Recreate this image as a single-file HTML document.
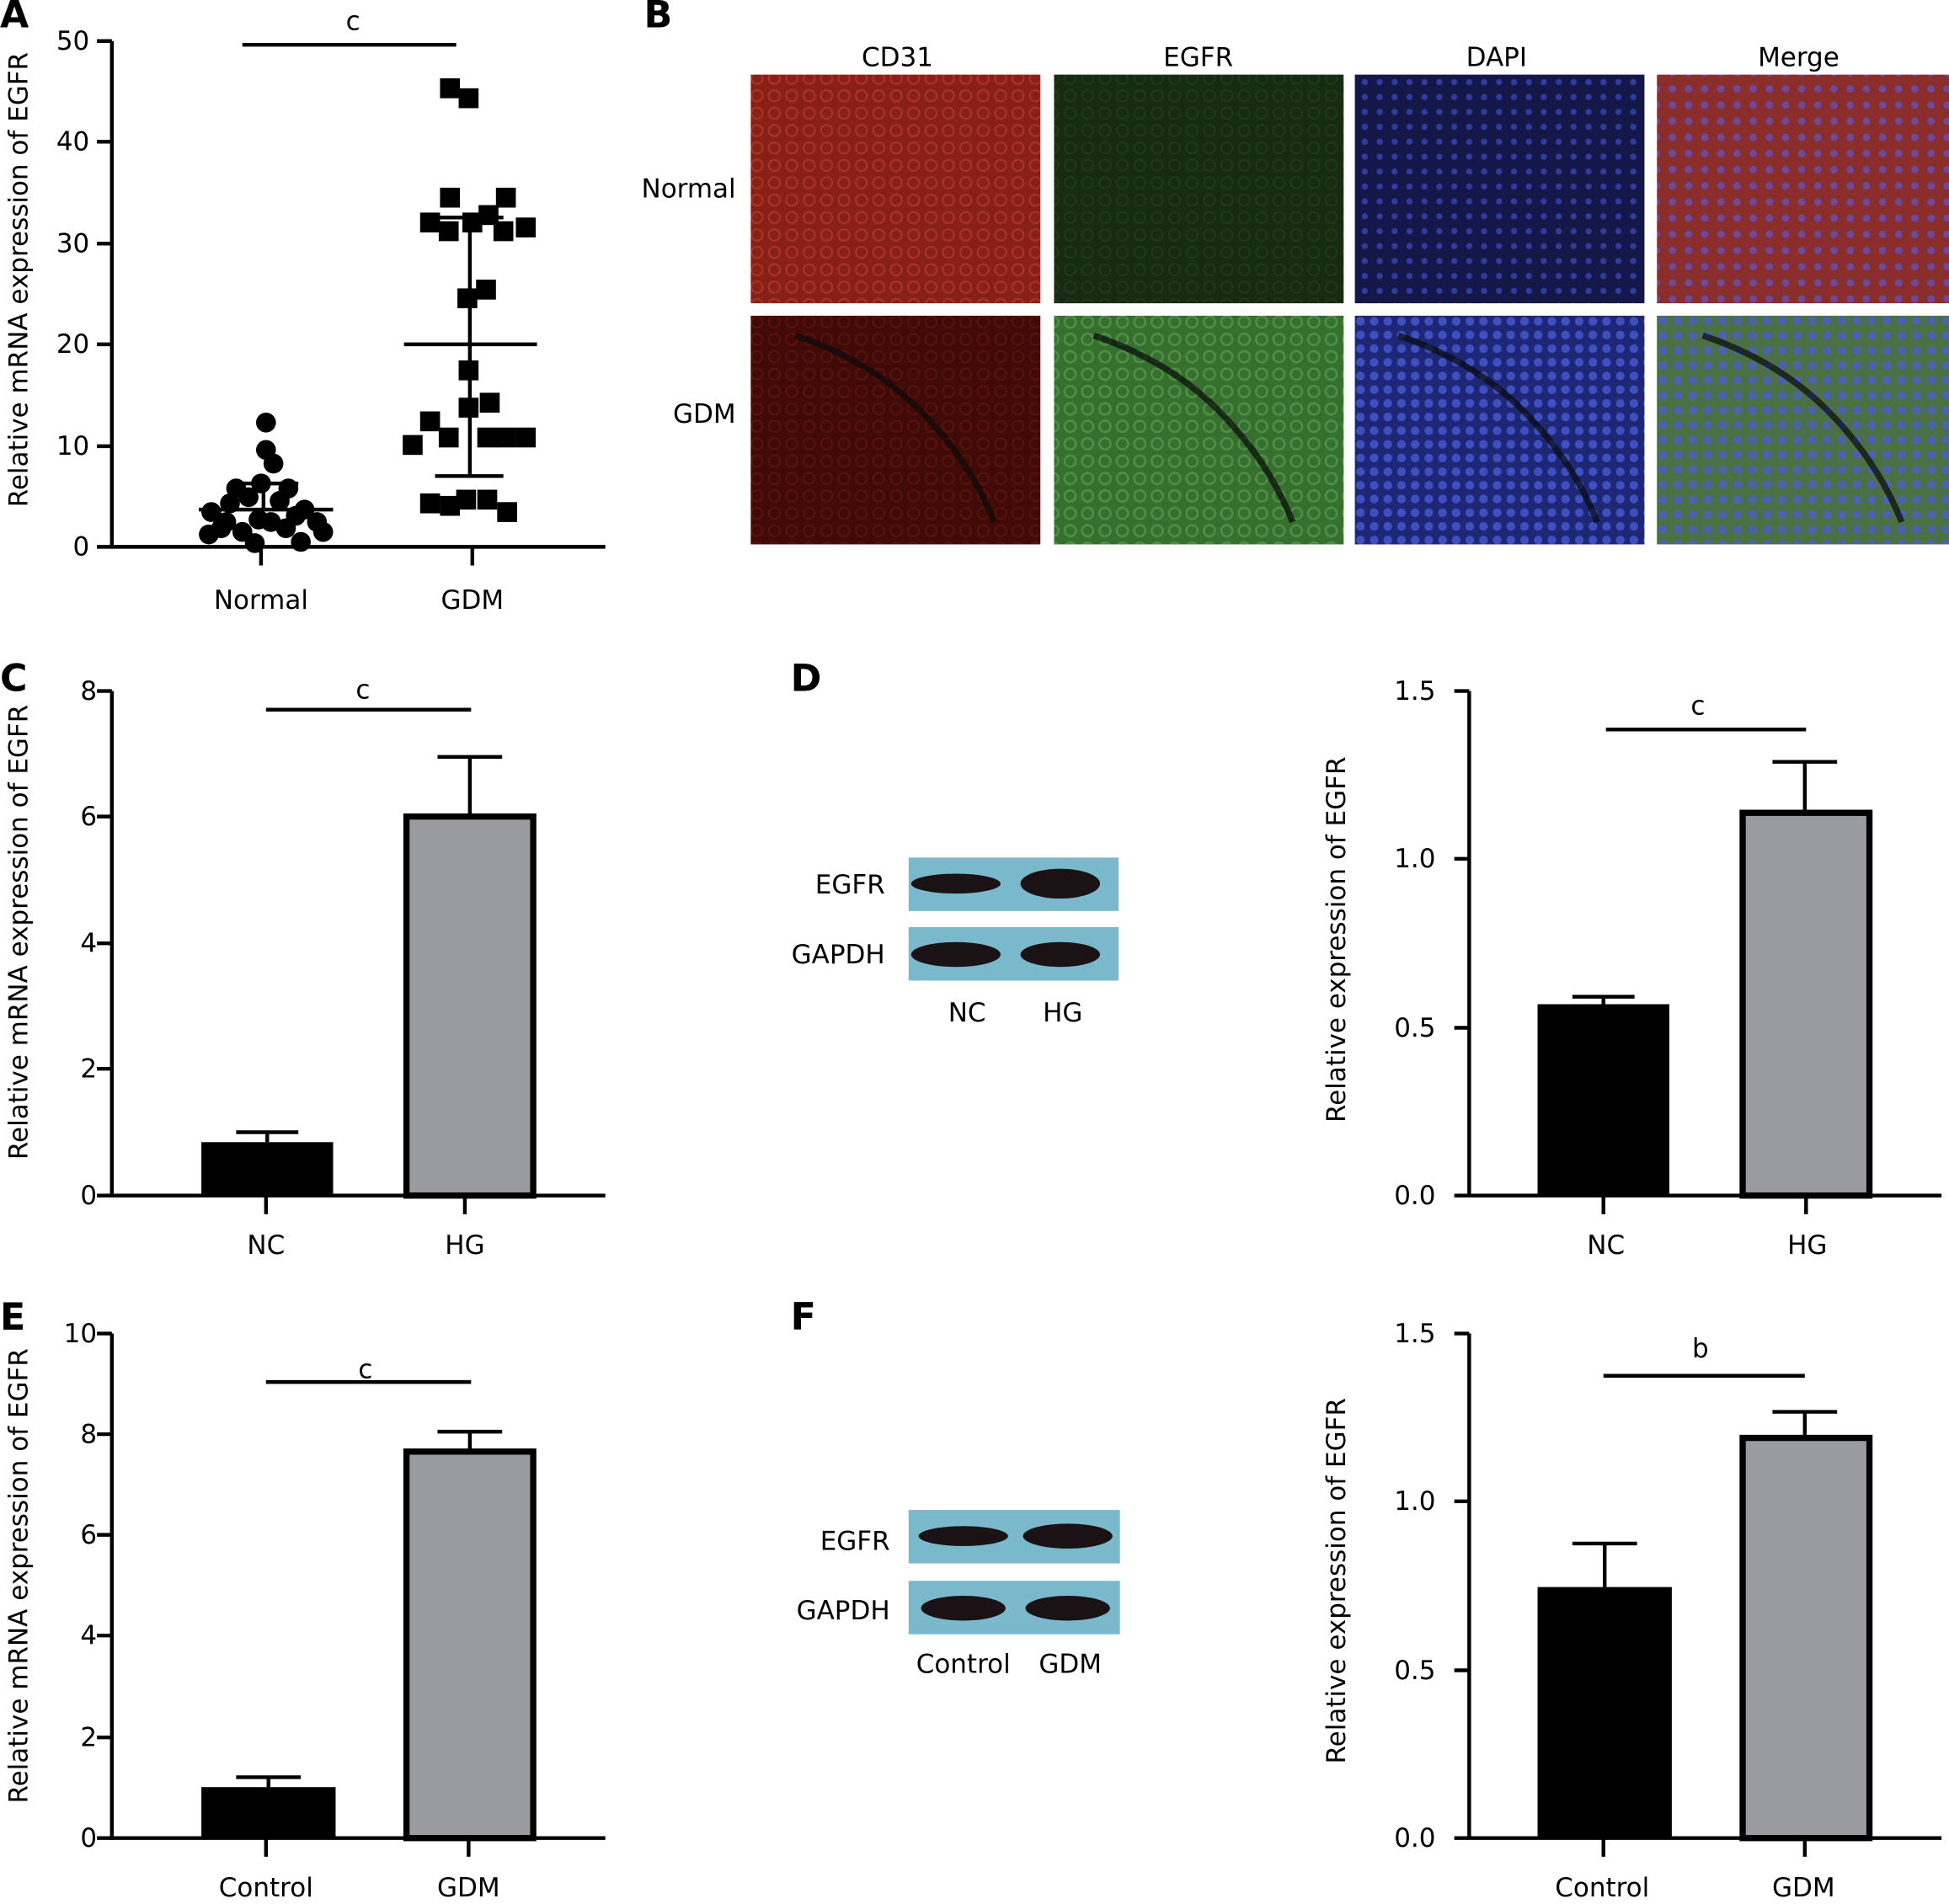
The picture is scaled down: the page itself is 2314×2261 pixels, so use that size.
<!DOCTYPE html>
<html><head><meta charset="utf-8"><style>html,body{margin:0;padding:0;background:#fff}svg{display:block}</style></head><body>
<svg width="2314" height="2261" viewBox="0 0 1568 1532" xmlns="http://www.w3.org/2000/svg" font-family="DejaVu Sans, Liberation Sans, sans-serif" font-size="21">
<defs>
<pattern id="pr" width="14" height="14" patternUnits="userSpaceOnUse"><rect width="14" height="14" fill="#882018"/><circle cx="7" cy="7" r="4.5" fill="none" stroke="#a83228" stroke-width="1.5"/></pattern>
<pattern id="pr2" width="14" height="14" patternUnits="userSpaceOnUse"><rect width="14" height="14" fill="#420a07"/><circle cx="7" cy="7" r="4.5" fill="none" stroke="#56120d" stroke-width="1.5"/></pattern>
<pattern id="pg" width="14" height="14" patternUnits="userSpaceOnUse"><rect width="14" height="14" fill="#172a12"/><circle cx="7" cy="7" r="4.5" fill="none" stroke="#1f3818" stroke-width="1.5"/></pattern>
<pattern id="pg2" width="14" height="14" patternUnits="userSpaceOnUse"><rect width="14" height="14" fill="#35702f"/><circle cx="7" cy="7" r="4.5" fill="none" stroke="#4e8e46" stroke-width="1.8"/></pattern>
<pattern id="pb" width="12" height="12" patternUnits="userSpaceOnUse"><rect width="12" height="12" fill="#141848"/><circle cx="6" cy="6" r="2.5" fill="#2e3ca0"/></pattern>
<pattern id="pb2" width="11" height="11" patternUnits="userSpaceOnUse"><rect width="11" height="11" fill="#1e2676"/><circle cx="5.5" cy="5.5" r="3.5" fill="#3e50c0"/></pattern>
<pattern id="pm" width="13" height="13" patternUnits="userSpaceOnUse"><rect width="13" height="13" fill="#8a2e2c"/><circle cx="6.5" cy="6.5" r="3" fill="#6a4aa0"/></pattern>
<pattern id="pm2" width="12" height="12" patternUnits="userSpaceOnUse"><rect width="12" height="12" fill="#4a7044"/><circle cx="6" cy="6" r="3.5" fill="#4a62b0"/></pattern>
</defs>
<g font-weight="bold" font-size="30">
<text x="0" y="22">A</text><text x="518" y="22">B</text><text x="0" y="556">C</text><text x="636" y="556">D</text><text x="0" y="1070">E</text><text x="636" y="1070">F</text></g>

<!-- Panel A -->
<g stroke="#000" stroke-width="3" fill="none">
<path d="M90 33V440H487"/>
<path d="M78 33H90M78 114H90M78 196H90M78 277H90M78 359H90M78 440H90"/>
<path d="M210 440V455M380 440V455"/>
<path d="M195 36H367"/>
<path d="M160 410H268M212 410V389M185 389H240"/>
<path d="M325 277H432M378 175V383M350 175H405M350 383H405"/>
</g>
<g text-anchor="end"><text x="72" y="40">50</text><text x="72" y="121">40</text><text x="72" y="203">30</text><text x="72" y="284">20</text><text x="72" y="366">10</text><text x="72" y="447">0</text></g>
<text x="284" y="24" text-anchor="middle">c</text>
<text x="210" y="490" text-anchor="middle">Normal</text><text x="380" y="490" text-anchor="middle">GDM</text>
<text transform="translate(22 225) rotate(-90)" text-anchor="middle">Relative mRNA expression of EGFR</text>
<g fill="#000">
<circle cx="214" cy="340" r="8"/><circle cx="214" cy="362" r="8"/><circle cx="220" cy="373" r="8"/><circle cx="190" cy="393" r="8"/><circle cx="210" cy="389" r="8"/><circle cx="232" cy="393" r="8"/><circle cx="170" cy="412" r="8"/><circle cx="185" cy="405" r="8"/><circle cx="200" cy="400" r="8"/><circle cx="225" cy="403" r="8"/><circle cx="245" cy="410" r="8"/><circle cx="255" cy="420" r="8"/><circle cx="168" cy="430" r="8"/><circle cx="182" cy="420" r="8"/><circle cx="195" cy="428" r="8"/><circle cx="205" cy="437" r="8"/><circle cx="218" cy="420" r="8"/><circle cx="230" cy="425" r="8"/><circle cx="242" cy="436" r="8"/><circle cx="260" cy="428" r="8"/><circle cx="178" cy="425" r="8"/><circle cx="238" cy="415" r="8"/><circle cx="208" cy="418" r="8"/>
</g>
<g fill="#000">
<rect x="354" y="63" width="16" height="16"/><rect x="369" y="71" width="16" height="16"/>
<rect x="354" y="151" width="16" height="16"/><rect x="399" y="151" width="16" height="16"/><rect x="385" y="165" width="16" height="16"/><rect x="338" y="171" width="16" height="16"/><rect x="372" y="171" width="16" height="16"/><rect x="415" y="175" width="16" height="16"/><rect x="353" y="178" width="16" height="16"/><rect x="397" y="178" width="16" height="16"/>
<rect x="383" y="225" width="16" height="16"/><rect x="368" y="232" width="16" height="16"/><rect x="369" y="290" width="16" height="16"/>
<rect x="386" y="316" width="16" height="16"/><rect x="369" y="320" width="16" height="16"/><rect x="338" y="331" width="16" height="16"/><rect x="324" y="350" width="16" height="16"/><rect x="353" y="344" width="16" height="16"/><rect x="384" y="344" width="16" height="16"/><rect x="415" y="344" width="16" height="16"/><rect x="399" y="344" width="16" height="16"/>
<rect x="338" y="397" width="16" height="16"/><rect x="367" y="394" width="16" height="16"/><rect x="384" y="394" width="16" height="16"/><rect x="400" y="404" width="16" height="16"/><rect x="354" y="399" width="16" height="16"/>
</g>

<!-- Panel B -->
<g text-anchor="middle"><text x="722" y="53">CD31</text><text x="964" y="53">EGFR</text><text x="1204" y="53">DAPI</text><text x="1447" y="53">Merge</text></g>
<text x="592" y="159" text-anchor="end">Normal</text><text x="592" y="340" text-anchor="end">GDM</text>
<rect x="604" y="60" width="233" height="184" fill="url(#pr)"/>
<rect x="848" y="60" width="233" height="184" fill="url(#pg)"/>
<rect x="1090" y="60" width="233" height="184" fill="url(#pb)"/>
<rect x="1333" y="60" width="235" height="184" fill="url(#pm)"/>
<rect x="604" y="254" width="233" height="184" fill="url(#pr2)"/>
<rect x="848" y="254" width="233" height="184" fill="url(#pg2)"/>
<rect x="1090" y="254" width="233" height="184" fill="url(#pb2)"/>
<rect x="1333" y="254" width="235" height="184" fill="url(#pm2)"/>
<g stroke="#0a0a0a" stroke-width="5" fill="none" opacity="0.7">
<path d="M640 270 Q700 290 740 330 T800 420"/><path d="M880 270 Q940 290 980 330 T1040 420"/><path d="M1125 270 Q1185 290 1225 330 T1285 420"/><path d="M1370 270 Q1430 290 1470 330 T1530 420"/></g>

<!-- Panel C -->
<g stroke="#000" stroke-width="3" fill="none">
<path d="M90 556V962H487"/>
<path d="M78 556H90M78 657H90M78 759H90M78 860H90M78 962H90"/>
<path d="M214 962V977M374 962V977M214 571H379"/>
<path d="M215 919V911M190 911H240M378 657V609M352 609H404"/>
</g>
<rect x="162" y="919" width="106" height="43" fill="#000"/>
<rect x="327" y="657" width="102" height="305" fill="#9a9ba0" stroke="#000" stroke-width="5"/>
<g text-anchor="end"><text x="78" y="563">8</text><text x="78" y="664">6</text><text x="78" y="766">4</text><text x="78" y="867">2</text><text x="78" y="969">0</text></g>
<text x="292" y="562" text-anchor="middle">c</text>
<text x="214" y="1009" text-anchor="middle">NC</text><text x="374" y="1009" text-anchor="middle">HG</text>
<text transform="translate(22 750) rotate(-90)" text-anchor="middle">Relative mRNA expression of EGFR</text>

<!-- Panel D -->
<rect x="731" y="690" width="169" height="43" fill="#7ab8cc"/><rect x="731" y="746" width="169" height="43" fill="#7ab8cc"/>
<ellipse cx="769" cy="711" rx="36" ry="8" fill="#1a1214"/><ellipse cx="853" cy="711" rx="32" ry="12" fill="#1a1214"/>
<ellipse cx="769" cy="768" rx="36" ry="10" fill="#1a1214"/><ellipse cx="853" cy="768" rx="32" ry="10" fill="#1a1214"/>
<text x="712" y="719" text-anchor="end">EGFR</text><text x="712" y="775" text-anchor="end">GAPDH</text>
<text x="778" y="822" text-anchor="middle">NC</text><text x="855" y="822" text-anchor="middle">HG</text>
<g stroke="#000" stroke-width="3" fill="none">
<path d="M1182 556V962H1562"/>
<path d="M1170 556H1182M1170 691H1182M1170 827H1182M1170 962H1182"/>
<path d="M1290 962V977M1453 962V977M1292 587H1453"/>
<path d="M1290 808V802M1265 802H1315M1452 652V613M1426 613H1478"/>
</g>
<rect x="1237" y="808" width="106" height="154" fill="#000"/>
<rect x="1402" y="654" width="102" height="308" fill="#9a9ba0" stroke="#000" stroke-width="5"/>
<g text-anchor="end"><text x="1155" y="563">1.5</text><text x="1155" y="698">1.0</text><text x="1155" y="834">0.5</text><text x="1155" y="969">0.0</text></g>
<text x="1366" y="575" text-anchor="middle">c</text>
<text x="1292" y="1009" text-anchor="middle">NC</text><text x="1454" y="1009" text-anchor="middle">HG</text>
<text transform="translate(1082 756) rotate(-90)" text-anchor="middle">Relative expression of EGFR</text>

<!-- Panel E -->
<g stroke="#000" stroke-width="3" fill="none">
<path d="M90 1073V1479H487"/>
<path d="M78 1073H90M78 1154H90M78 1235H90M78 1316H90M78 1398H90M78 1479H90"/>
<path d="M214 1479V1494M377 1479V1494M214 1112H379"/>
<path d="M216 1438V1430M190 1430H242M378 1168V1152M352 1152H404"/>
</g>
<rect x="162" y="1438" width="108" height="41" fill="#000"/>
<rect x="327" y="1168" width="102" height="311" fill="#9a9ba0" stroke="#000" stroke-width="5"/>
<g text-anchor="end"><text x="78" y="1080">10</text><text x="78" y="1161">8</text><text x="78" y="1242">6</text><text x="78" y="1323">4</text><text x="78" y="1405">2</text><text x="78" y="1486">0</text></g>
<text x="294" y="1109" text-anchor="middle">c</text>
<text x="214" y="1526" text-anchor="middle">Control</text><text x="377" y="1526" text-anchor="middle">GDM</text>
<text transform="translate(22 1268) rotate(-90)" text-anchor="middle">Relative mRNA expression of EGFR</text>

<!-- Panel F -->
<rect x="731" y="1215" width="170" height="43" fill="#7ab8cc"/><rect x="731" y="1272" width="170" height="43" fill="#7ab8cc"/>
<ellipse cx="775" cy="1236" rx="36" ry="8" fill="#1a1214"/><ellipse cx="859" cy="1236" rx="36" ry="10" fill="#1a1214"/>
<ellipse cx="775" cy="1294" rx="34" ry="10" fill="#1a1214"/><ellipse cx="859" cy="1294" rx="34" ry="10" fill="#1a1214"/>
<text x="716" y="1247" text-anchor="end">EGFR</text><text x="716" y="1303" text-anchor="end">GAPDH</text>
<text x="775" y="1346" text-anchor="middle">Control</text><text x="861" y="1346" text-anchor="middle">GDM</text>
<g stroke="#000" stroke-width="3" fill="none">
<path d="M1182 1073V1479H1562"/>
<path d="M1170 1073H1182M1170 1208H1182M1170 1344H1182M1170 1479H1182"/>
<path d="M1290 1479V1494M1452 1479V1494M1290 1107H1452"/>
<path d="M1291 1277V1242M1265 1242H1317M1452 1156V1136M1426 1136H1478"/>
</g>
<rect x="1237" y="1277" width="108" height="202" fill="#000"/>
<rect x="1402" y="1157" width="102" height="322" fill="#9a9ba0" stroke="#000" stroke-width="5"/>
<g text-anchor="end"><text x="1155" y="1080">1.5</text><text x="1155" y="1215">1.0</text><text x="1155" y="1351">0.5</text><text x="1155" y="1486">0.0</text></g>
<text x="1368" y="1092" text-anchor="middle">b</text>
<text x="1289" y="1526" text-anchor="middle">Control</text><text x="1451" y="1526" text-anchor="middle">GDM</text>
<text transform="translate(1082 1272) rotate(-90)" text-anchor="middle">Relative expression of EGFR</text>
</svg>
</body></html>
